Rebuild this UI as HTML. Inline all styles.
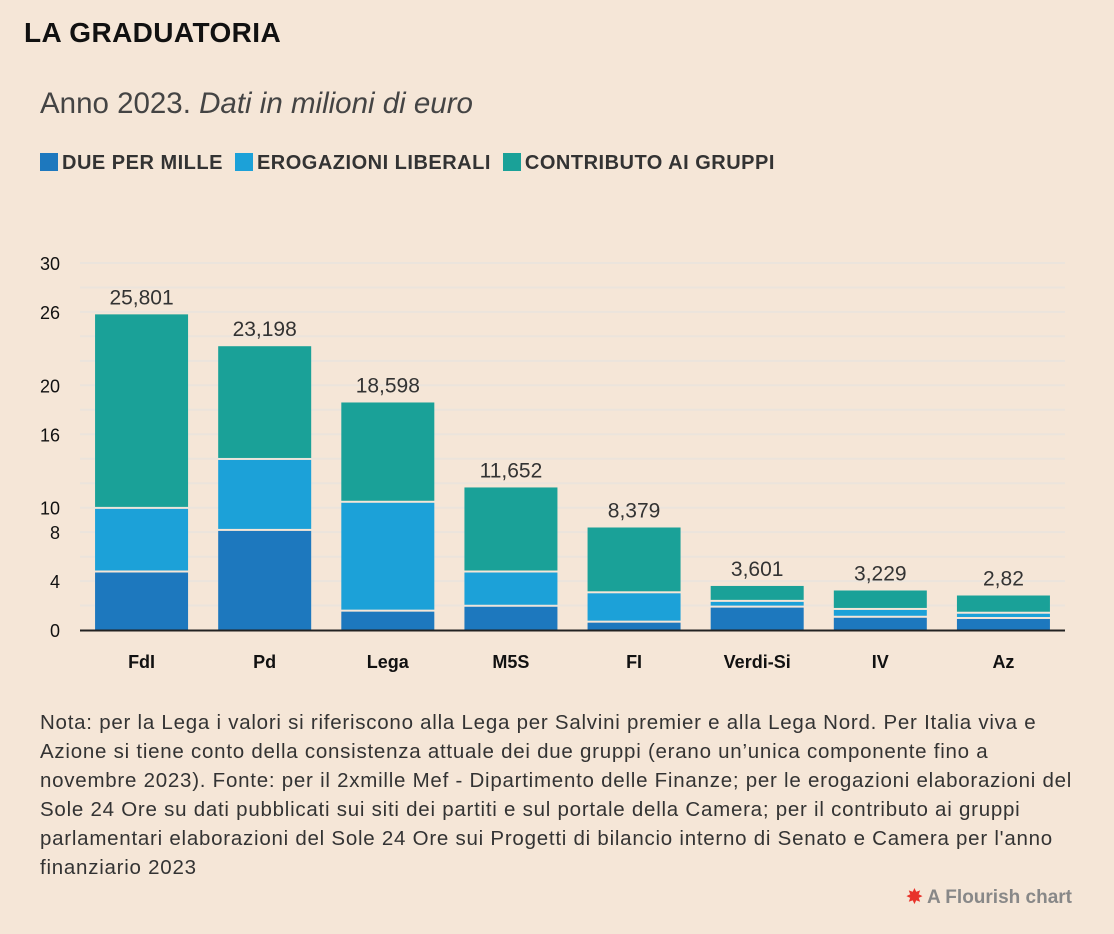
<!DOCTYPE html>
<html><head><meta charset="utf-8"><style>
body{margin:0;background:#f5e6d7;font-family:"Liberation Sans",sans-serif;color:#333;}
#wrap{position:relative;width:1114px;height:934px;overflow:hidden;}
.title{position:absolute;left:24px;top:17px;font-size:28px;font-weight:bold;color:#111;letter-spacing:0.4px;}
.sub{position:absolute;left:40px;top:87px;font-size:29.5px;color:#444;}
.legend{position:absolute;left:40px;top:152px;font-size:20px;font-weight:bold;color:#333;display:flex;gap:12px;letter-spacing:0.5px;}
.legend span.sw{display:inline-block;width:18px;height:18px;margin-right:4px;vertical-align:-2px;}
.note{position:absolute;left:40px;top:708px;font-size:20.5px;letter-spacing:0.75px;line-height:29px;color:#333;white-space:nowrap;}
.fl{position:absolute;right:42px;top:886px;font-size:19px;font-weight:bold;color:#888;}
</style></head><body>
<div id="wrap">
<div class="title">LA GRADUATORIA</div>
<div class="sub">Anno 2023. <i>Dati in milioni di euro</i></div>
<div class="legend">
<div><span class="sw" style="background:#1d78be"></span>DUE PER MILLE</div>
<div><span class="sw" style="background:#1ca1d8"></span>EROGAZIONI LIBERALI</div>
<div><span class="sw" style="background:#1aa198"></span>CONTRIBUTO AI GRUPPI</div>
</div>
<svg id="chart" width="1114" height="934" style="position:absolute;left:0;top:0"></svg>
<div class="note">Nota: per la Lega i valori si riferiscono alla Lega per Salvini premier e alla Lega Nord. Per Italia viva e<br>Azione si tiene conto della consistenza attuale dei due gruppi (erano un’unica componente fino a<br>novembre 2023). Fonte: per il 2xmille Mef - Dipartimento delle Finanze; per le erogazioni elaborazioni del<br>Sole 24 Ore su dati pubblicati sui siti dei partiti e sul portale della Camera; per il contributo ai gruppi<br>parlamentari elaborazioni del Sole 24 Ore sui Progetti di bilancio interno di Senato e Camera per l'anno<br>finanziario 2023</div>
<div class="fl"><span style="color:#e8332a">✸</span> A Flourish chart</div>
</div>
<script>
const categories=["FdI","Pd","Lega","M5S","FI","Verdi-Si","IV","Az"];
const duePerMille=[4.7,8.1,1.5,1.9,0.6,1.83,1.0,0.9];
const erogazioni=[5.2,5.8,8.9,2.8,2.4,0.47,0.64,0.43];
const totals=[25.801,23.198,18.598,11.652,8.379,3.601,3.229,2.82];
const totalLabels=["25,801","23,198","18,598","11,652","8,379","3,601","3,229","2,82"];
const yTicks=[0,4,8,10,16,20,26,30];
const NS="http://www.w3.org/2000/svg",svg=document.getElementById('chart');
const x0=80,x1=1065,y0=630,y30=263;
const y=v=>y0-(v/30)*(y0-y30);
const step=(x1-x0)/categories.length,bw=93;
const cx=i=>x0+step*(i+0.5);
function mk(t,a){const e=document.createElementNS(NS,t);for(const k in a)e.setAttribute(k,a[k]);svg.appendChild(e);return e;}
for(let v=2;v<=30;v+=2){const l=mk('line',{x1:x0,x2:x1,y1:y(v),y2:y(v),stroke:'#ebe4dc','stroke-width':2});

}
yTicks.forEach(v=>{const t=mk('text',{x:60,y:y(v)+7,'text-anchor':'end','font-size':18,fill:'#111'});t.textContent=v;

});
categories.forEach((c,i)=>{
const segs=[[0,duePerMille[i],'#1d78be'],[duePerMille[i],duePerMille[i]+erogazioni[i],'#1ca1d8'],[duePerMille[i]+erogazioni[i],totals[i],'#1aa198']];
segs.forEach((s,j)=>{const r=mk('rect',{x:cx(i)-bw/2,y:y(s[1]),width:bw,height:Math.max(0,y(s[0])-y(s[1])-(j>0?2:0)),fill:s[2]});

});
const t=mk('text',{x:cx(i),y:y(totals[i])-10,'text-anchor':'middle','font-size':21,fill:'#333'});t.textContent=totalLabels[i];


const xl=mk('text',{x:cx(i),y:668,'text-anchor':'middle','font-size':18,'font-weight':'bold',fill:'#111'});xl.textContent=c;


});
const ax=mk('line',{x1:x0,x2:x1,y1:y0+0.5,y2:y0+0.5,stroke:'#222','stroke-width':2});


</script>
</body></html>
